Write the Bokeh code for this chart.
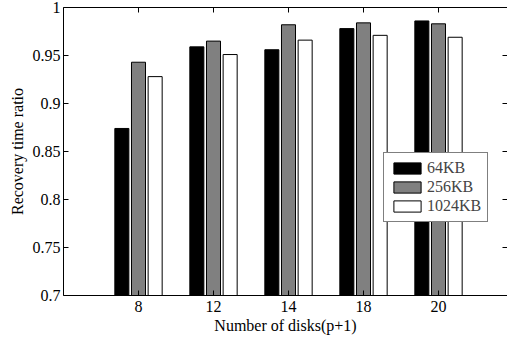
from bokeh.plotting import figure
from bokeh.models import (ColumnDataSource, Range1d, FixedTicker, LinearAxis, Legend, LegendItem)
from bokeh.transform import dodge
from bokeh.embed import file_html
from bokeh.resources import INLINE

categories = ["8", "12", "14", "18", "20"]
series_names = ["64KB", "256KB", "1024KB"]
v64 = [0.874, 0.959, 0.956, 0.978, 0.986]
v256 = [0.943, 0.965, 0.982, 0.984, 0.983]
v1024 = [0.928, 0.951, 0.966, 0.971, 0.969]
yticks = [0.7, 0.75, 0.8, 0.85, 0.9, 0.95, 1.0]
ytick_labels = ["0.7", "0.75", "0.8", "0.85", "0.9", "0.95", "1"]

xpos = [i + 1 for i in range(len(categories))]
src = ColumnDataSource(dict(x=xpos, v64=v64, v256=v256, v1024=v1024))

FONT = "Liberation Serif"
FS = "16px"

p = figure(width=507, height=337, output_backend="svg", toolbar_location=None,
           x_range=Range1d(0, 5.92), y_range=Range1d(0.7, 1.0),
           min_border_left=63, min_border_top=7, min_border_bottom=42, min_border_right=0,
           background_fill_color="white", border_fill_color="white")
p.grid.visible = False
p.outline_line_color = None

bw = 0.187
off = 0.222
colors = ["black", "#808080", "white"]
fields = ["v64", "v256", "v1024"]
renderers = []
for f, c, d in zip(fields, colors, [-off, 0.0, off]):
    r = p.vbar(x=dodge("x", d), top=f, bottom=0.6, width=bw, source=src,
               fill_color=c, line_color="black", line_width=1)
    renderers.append(r)

xa = p.xaxis[0]
xa.ticker = FixedTicker(ticks=xpos)
xa.major_label_overrides = {x: c for x, c in zip(xpos, categories)}
xa.axis_label = "Number of disks(p+1)"
ya = p.yaxis[0]
ya.ticker = FixedTicker(ticks=yticks)
ya.major_label_overrides = {t: l for t, l in zip(yticks, ytick_labels)}
ya.axis_label = "Recovery time ratio"

for ax in (xa, ya):
    ax.major_tick_in = 5
    ax.major_tick_out = 0
    ax.minor_tick_line_color = None
    ax.axis_line_color = "black"
    ax.major_tick_line_color = "black"
    ax.major_label_text_font = FONT
    ax.major_label_text_font_size = FS
    ax.major_label_text_color = "black"
    ax.axis_label_text_font = FONT
    ax.axis_label_text_font_size = FS
    ax.axis_label_text_font_style = "normal"
    ax.axis_label_text_color = "black"
xa.major_label_standoff = 5
xa.axis_label_standoff = 2
ya.major_label_standoff = 3
ya.axis_label_standoff = 4

top = LinearAxis(ticker=FixedTicker(ticks=xpos), major_tick_in=5, major_tick_out=0,
                 major_label_overrides={x: "" for x in xpos},
                 major_label_text_font_size="1px", major_label_standoff=0,
                 minor_tick_line_color=None, axis_line_color="black")
p.add_layout(top, "above")
right = LinearAxis(ticker=FixedTicker(ticks=yticks), major_tick_in=5, major_tick_out=0,
                   major_label_overrides={t: "" for t in yticks},
                   major_label_text_font_size="1px", major_label_standoff=0,
                   minor_tick_line_color=None, axis_line_color=None)
p.add_layout(right, "right")

legend = Legend(items=[LegendItem(label=n, renderers=[r]) for n, r in zip(series_names, renderers)],
                location=(320, 73), glyph_width=34, glyph_height=14, label_height=17,
                spacing=1, padding=6, margin=0, label_standoff=3,
                label_text_font=FONT, label_text_font_size=FS,
                border_line_color="black", border_line_width=1,
                background_fill_color="white", background_fill_alpha=1.0)
p.add_layout(legend)

open("out.html", "w").write(file_html(p, INLINE))
